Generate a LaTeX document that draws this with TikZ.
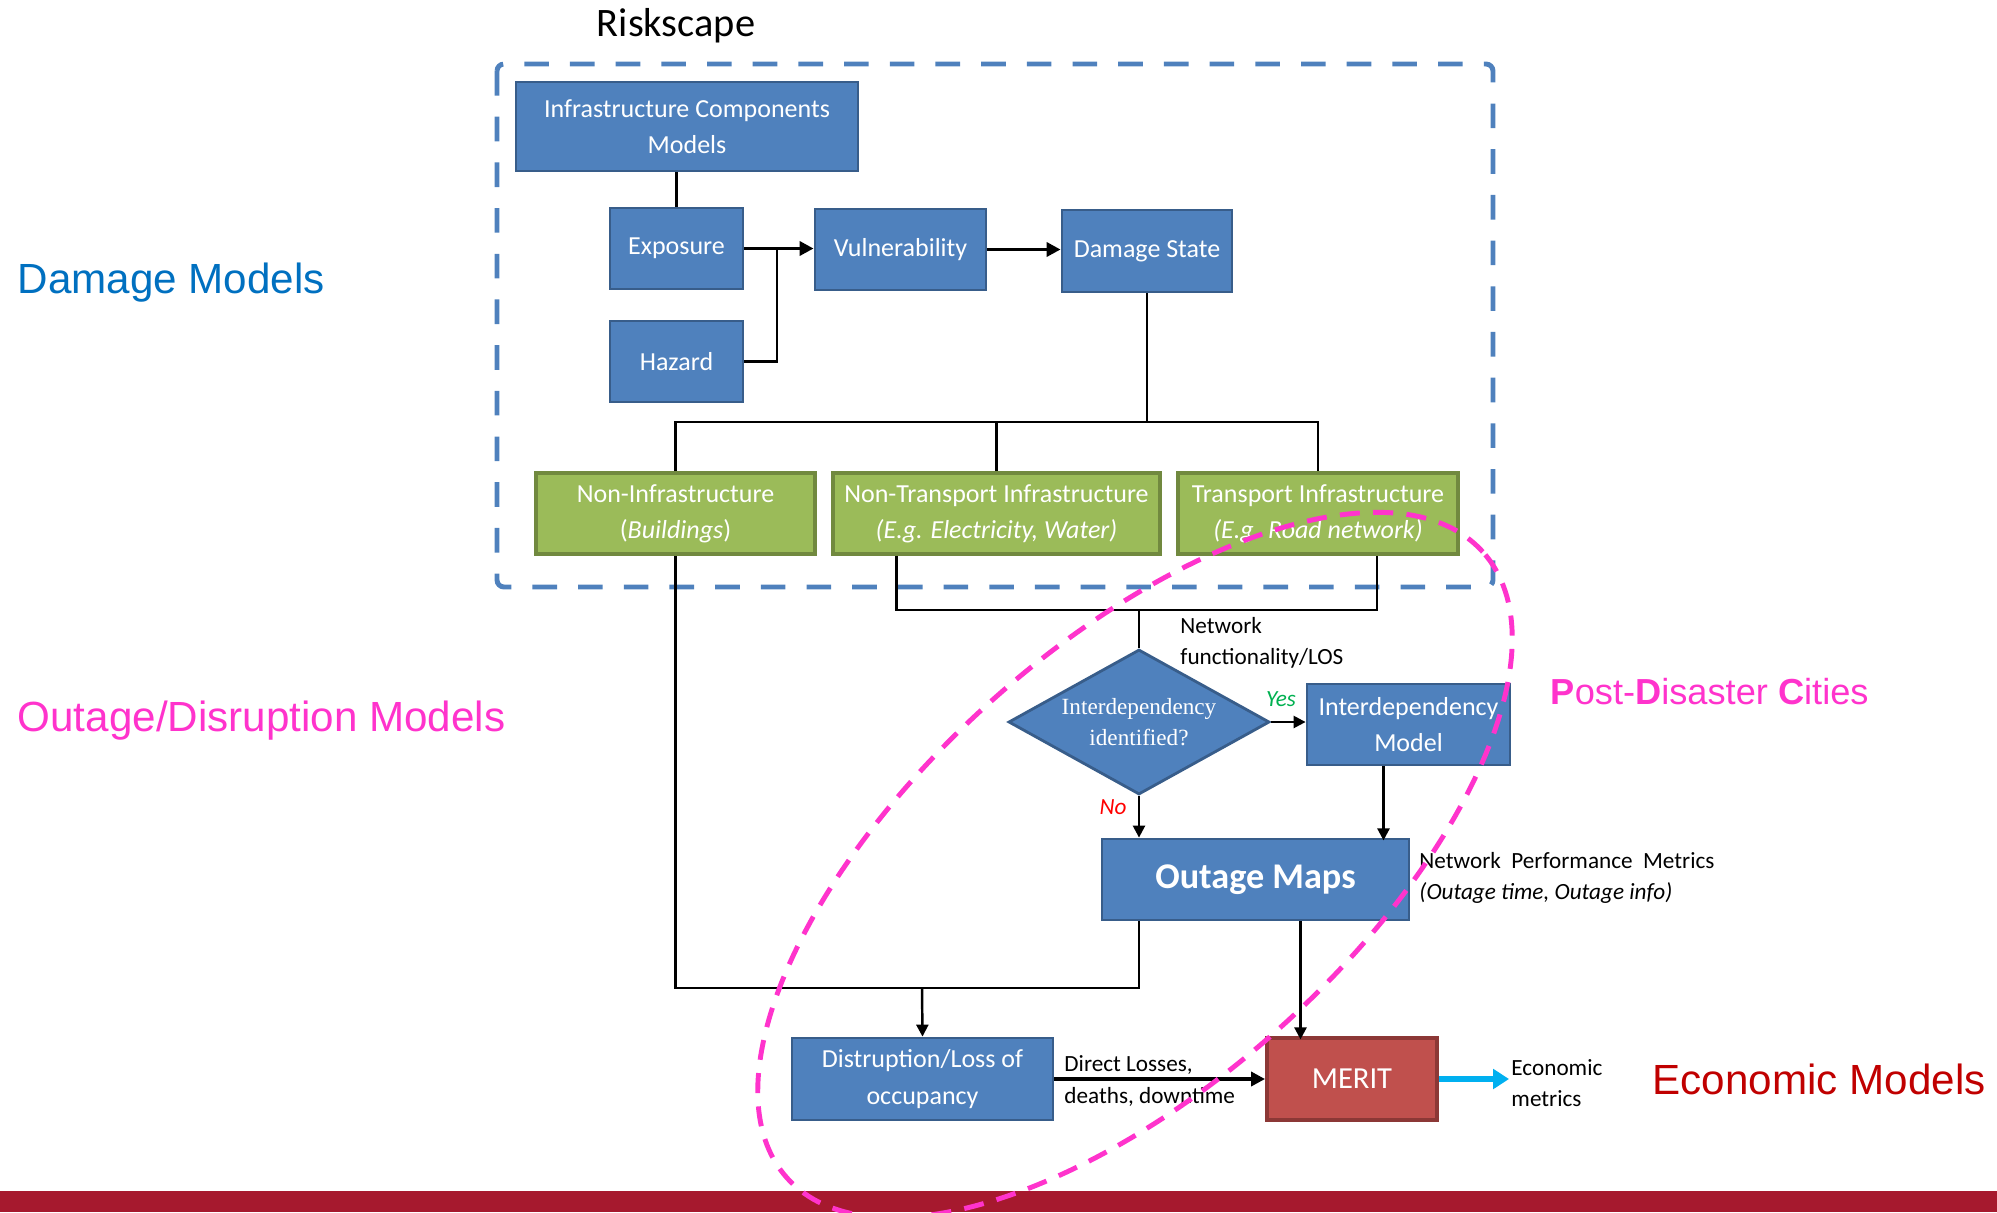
\documentclass[tikz,border=0pt]{standalone}
\usepackage{fontspec}
\setmainfont{Carlito}
\newfontfamily\arialfont{Liberation Sans}
\newfontfamily\timesfont{Liberation Serif}
\usepackage{tikz}
\usetikzlibrary{arrows.meta,positioning,calc,shapes.geometric}

\definecolor{boxblue}{HTML}{4F81BD}
\definecolor{boxedge}{HTML}{385D8A}
\definecolor{infragreen}{HTML}{9BBB59}
\definecolor{infraedge}{HTML}{71893F}
\definecolor{meritred}{HTML}{C0504D}
\definecolor{meritedge}{HTML}{8C3836}
\definecolor{dmgblue}{HTML}{0070C0}
\definecolor{pdcpink}{HTML}{FF33CC}
\definecolor{ecored}{HTML}{C00000}
\definecolor{ecocyan}{HTML}{00B0F0}
\definecolor{yesgreen}{HTML}{00B050}
\definecolor{barred}{HTML}{A6192E}

\begin{document}
\begin{tikzpicture}[
    block/.style={draw=boxedge, fill=boxblue, text=white, align=center, line width=0.8pt, inner sep=1pt, font=\fontsize{7.4}{10.3}\selectfont},
    infra/.style={block, draw=infraedge, fill=infragreen, line width=1.1pt, minimum height=0.81cm},
    merit/.style={block, draw=meritedge, fill=meritred, line width=1.1pt, font=\fontsize{8.7}{10}\selectfont},
    decision/.style={diamond, aspect=1.8, draw=boxedge, fill=boxblue, text=white, align=center, inner sep=0pt, line width=0.8pt, minimum width=2.61cm, minimum height=1.45cm, font=\timesfont\fontsize{6.6}{8.7}\selectfont},
    link/.style={line width=0.7pt},
    flow/.style={->, >={Triangle[length=3.4pt,width=3.4pt]}, line width=0.7pt},
    flowthick/.style={->, >={Triangle[length=4pt,width=4pt]}, line width=1.1pt},
    ecoflow/.style={->, >={Triangle[length=4.5pt,width=5.5pt]}, line width=1.6pt, draw=ecocyan},
    note/.style={align=left, inner sep=0.5pt, font=\fontsize{6.6}{8.7}\selectfont},
    side/.style={anchor=west, inner sep=0pt, font=\arialfont\fontsize{12}{14}\selectfont},
    riskbox/.style={draw=boxblue, line width=1.4pt, dash pattern=on 7pt off 6pt, rounded corners=2pt},
    pinkring/.style={draw=pdcpink, line width=1.4pt, dash pattern=on 5.7pt off 3.8pt}
]
    \useasboundingbox (0,0) rectangle (19.97,-12.12);

    \node[font=\fontsize{11.5}{13}\selectfont] (rs) at (6.76,-0.26) {Riskscape};
    \draw[riskbox] (4.97,-0.64) rectangle (14.93,-5.87);

    \node[block, minimum width=3.42cm, minimum height=0.89cm] (icm) at (6.87,-1.265) {Infrastructure Components\\Models};
    \node[block, minimum width=1.33cm, minimum height=0.81cm] (exp) at (6.765,-2.485) {Exposure};
    \node[block, minimum width=1.33cm, minimum height=0.81cm] (haz) at (6.765,-3.615) {Hazard};
    \node[block, minimum width=1.71cm, minimum height=0.81cm] (vul) at (9.005,-2.495) {Vulnerability};
    \node[block, minimum width=1.70cm, minimum height=0.82cm] (ds) at (11.47,-2.51) {Damage State};

    \coordinate (jn) at (7.77,-2.485);
    \draw[link] (exp.north |- icm.south) -- (exp.north);
    \draw[flowthick] (exp.east) -- (exp.east -| vul.west);
    \draw[link] (haz.east) -| (jn);
    \draw[flowthick] (vul.east) -- (vul.east -| ds.west);

    \node[infra, minimum width=2.79cm] (ni) at (6.755,-5.135) {Non-Infrastructure\\(\textit{Buildings})};
    \node[infra, minimum width=3.27cm] (nt) at (9.965,-5.135) {Non-Transport Infrastructure\\\textit{(E.g. Electricity, Water)}};
    \node[infra, minimum width=2.80cm] (tr) at (13.18,-5.135) {Transport Infrastructure\\\textit{(E.g. Road network)}};

    \coordinate (split) at (11.43,-4.22);
    \draw[link] (ds.south) -- (ds.south |- split);
    \draw[link] (ni.north) |- (split) -| (tr.north);
    \draw[link] (nt.north) -- (nt.north |- split);

    \node[decision] (dia) at (11.39,-7.22) {Interdependency\\identified?};
    \node[block, minimum width=2.03cm, minimum height=0.81cm] (idm) at (14.085,-7.245) {Interdependency\\Model};
    \node[block, minimum width=3.07cm, minimum height=0.81cm, font=\bfseries\fontsize{10.3}{12}\selectfont] (om) at (12.555,-8.795) {Outage Maps};
    \node[block, minimum width=2.61cm, minimum height=0.82cm] (dis) at (9.225,-10.79) {Distruption/Loss of\\occupancy};
    \node[merit, minimum width=1.70cm, minimum height=0.82cm] (me) at (13.52,-10.79) {MERIT};

    \coordinate (nf) at (11.39,-6.10);
    \draw[link] ([xshift=-10mm]nt.south) |- (nf) -| ([xshift=5.9mm]tr.south);
    \draw[link] (nf) -- (dia.north);
    \node[note, anchor=west] (nfl) at (11.78,-6.43) {Network\\functionality/LOS};

    \draw[flow] (dia.east) -- (dia.east -| idm.west);
    \node[note, text=yesgreen, font=\itshape\fontsize{6.6}{8}\selectfont] (yes) at (12.81,-6.99) {Yes};
    \draw[flow] (dia.south) -- (dia.south |- om.north);
    \node[note, text=red, font=\itshape\fontsize{6.6}{8}\selectfont] (no) at (11.13,-8.07) {No};
    \draw[flow] ([xshift=-2.5mm]idm.south) -- ++(0,-0.74);
    \node[note, anchor=west] (npm) at (14.17,-8.78) {Network\ \ Performance\ \ Metrics\\\textit{(Outage time, Outage info)}};

    \coordinate (mg) at (9.22,-9.88);
    \draw[link] (ni.south) |- (mg) -| ([xshift=-11.65mm]om.south);
    \draw[flow] (mg) -- (dis.north);
    \draw[flow] ([xshift=4.5mm]om.south) -- ++(0,-1.18);

    \draw[flowthick] (dis.east) -- (me.west);
    \node[note, anchor=west, font=\fontsize{6.6}{9.2}\selectfont] (dl) at (10.62,-10.81) {Direct Losses,\\deaths, downtime};
    \node[note, anchor=west] (eco) at (15.09,-10.83) {Economic\\metrics};
    \draw[ecoflow] (me.east) -- (me.east -| eco.west);

    \node[side, text=dmgblue] (dmg) at (0.17,-2.83) {Damage Models};
    \node[side, text=pdcpink] (odm) at (0.17,-7.21) {Outage/Disruption Models};
    \node[side, text=pdcpink, font=\arialfont\fontsize{10.3}{12}\selectfont] (pdc) at (15.50,-6.92) {\textbf{P}ost-\textbf{D}isaster \textbf{C}ities};
    \node[side, text=ecored] (ecm) at (16.52,-10.79) {Economic Models};

    \fill[barred] (0,-11.91) rectangle (19.97,-12.12);
    \draw[pinkring, rotate around={42:(11.35,-8.65)}] (11.35,-8.65) ellipse [x radius=4.68cm, y radius=2.18cm];
\end{tikzpicture}
\end{document}
